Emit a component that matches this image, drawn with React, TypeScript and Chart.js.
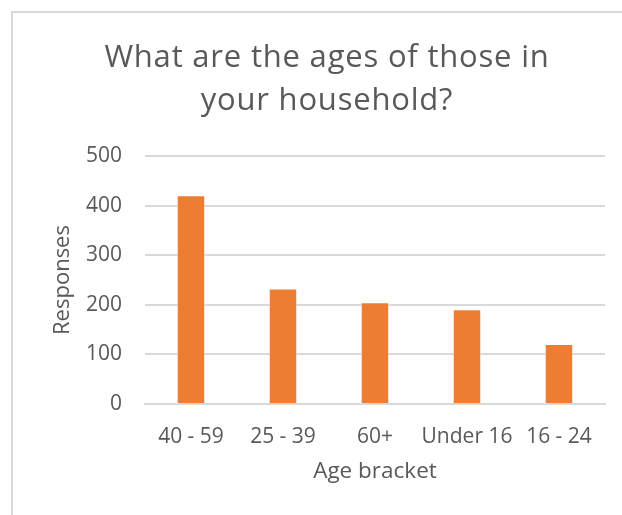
import React, { useEffect, useRef } from "react";
import { Chart, registerables } from "chart.js";

Chart.register(...registerables);

const categories = ["40 - 59", "25 - 39", "60+", "Under 16", "16 - 24"];
const responses = [421, 233, 205, 191, 121];
const titleLines = ["What are the ages of those in", "your household?"];
const yTitle = "Responses";
const xTitle = "Age bracket";

const FONT = "'Open Sans', sans-serif";
const TEXT = "#595959";
const GRID = "#D9D9D9";

const titlePlugin = {
  id: "centeredTitle",
  afterDraw(chart: any) {
    const ctx = chart.ctx as CanvasRenderingContext2D;
    ctx.save();
    ctx.fillStyle = TEXT;
    ctx.font = `31px ${FONT}`;
    (ctx as any).letterSpacing = "0.8px";
    ctx.textAlign = "center";
    ctx.textBaseline = "alphabetic";
    const baselines = [67, 110];
    titleLines.forEach((line, i) => {
      ctx.fillText(line, 327, baselines[i]);
    });
    ctx.restore();
  },
};

export default function App() {
  const ref = useRef<HTMLCanvasElement | null>(null);

  useEffect(() => {
    if (!ref.current) return;
    const chart = new Chart(ref.current, {
      type: "bar",
      data: {
        labels: categories,
        datasets: [
          {
            data: responses,
            backgroundColor: "#ED7D31",
            borderColor: "rgba(255,255,255,0.55)",
            borderWidth: 1,
            barPercentage: 0.31,
            categoryPercentage: 1,
          },
        ],
      },
      plugins: [titlePlugin],
      options: {
        responsive: false,
        animation: false,
        layout: { padding: { left: 0, right: 17, top: 156, bottom: 0 } },
        plugins: {
          legend: { display: false },
          tooltip: { enabled: false },
          title: { display: false },
        },
        scales: {
          x: {
            grid: { display: false, drawTicks: false },
            border: { display: true, color: GRID, width: 2 },
            ticks: {
              color: TEXT,
              font: { family: FONT, size: 21 },
              padding: 20,
              maxRotation: 0,
              minRotation: 0,
              autoSkip: false,
            },
            title: {
              display: true,
              text: xTitle,
              color: TEXT,
              font: { family: FONT, size: 22.5 },
              padding: { top: 0, bottom: 30 },
            },
            afterFit: (s: any) => {
              s.height = 111;
            },
          },
          y: {
            min: 0,
            max: 500,
            ticks: { stepSize: 100, color: TEXT, font: { family: FONT, size: 21 }, padding: 23 },
            grid: { color: GRID, lineWidth: 2, drawTicks: false },
            border: { display: false },
            title: {
              display: true,
              text: yTitle,
              color: TEXT,
              font: { family: FONT, size: 22 },
              padding: { top: 50, bottom: 0 },
            },
            afterFit: (s: any) => {
              s.width = 145;
            },
          },
        },
      },
    });
    return () => chart.destroy();
  }, []);

  return (
    <div
      style={{
        position: "absolute",
        left: 0,
        top: 0,
        width: 622,
        height: 515,
        overflow: "hidden",
        background: "#fff",
      }}
    >
      <div
        style={{
          position: "absolute",
          left: 11,
          top: 11,
          width: 700,
          height: 600,
          border: "2px solid #D9D9D9",
        }}
      />
      <canvas
        ref={ref}
        width={622}
        height={515}
        style={{ position: "absolute", left: 0, top: 0, width: 622, height: 515 }}
      />
    </div>
  );
}
